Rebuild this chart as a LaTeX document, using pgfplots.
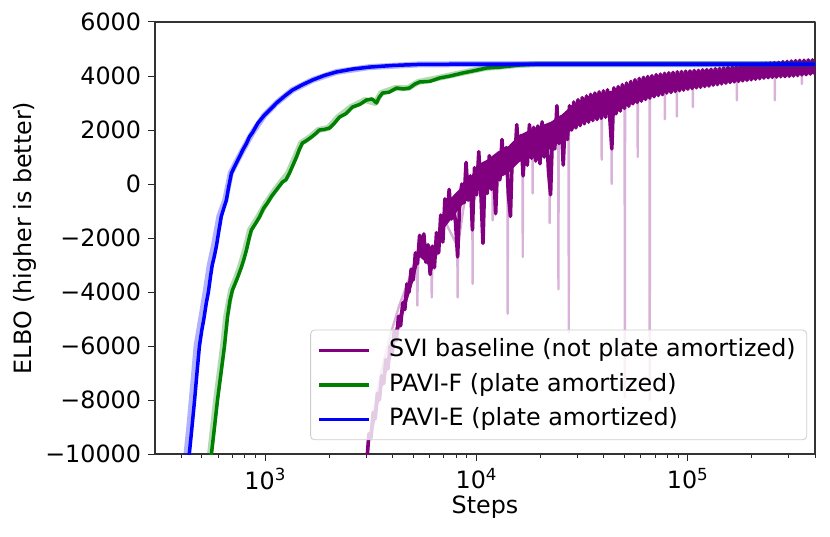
\documentclass[border=0pt]{standalone}
\usepackage{fontspec}
\setmainfont{DejaVu Sans}
\usepackage{pgfplots}
\pgfplotsset{compat=1.18}
\definecolor{mplpurple}{RGB}{128,0,128}
\definecolor{mplgreen}{RGB}{0,128,0}
\definecolor{mplblue}{RGB}{0,0,255}
\newcommand{\fs}{\fontsize{11.9}{14}\selectfont}
\begin{document}
\begin{tikzpicture}
\path[use as bounding box] (-77.5pt,-41pt) rectangle (337.5pt,227pt);
\begin{axis}[
 at={(0pt,0pt)}, anchor=south west,
 scale only axis, width=330pt, height=216pt,
 xmode=log, xmin=300, xmax=400000,
 ymin=-10000, ymax=6000,
 scaled y ticks=false,
 xtick={1000,10000,100000},
 xticklabels={10\textsuperscript{3},10\textsuperscript{4},10\textsuperscript{5}},
 minor xtick={400,500,600,700,800,900,2000,3000,4000,5000,6000,7000,8000,9000,20000,30000,40000,50000,60000,70000,80000,90000,200000,300000,400000},
 ytick={-10000,-8000,-6000,-4000,-2000,0,2000,4000,6000},
 yticklabels={−10000,−8000,−6000,−4000,−2000,0,2000,4000,6000},
 tick align=outside, major tick length=3.5pt, minor tick length=2pt,
 tick style={black!85, line width=0.5pt},
 xtick pos=left, ytick pos=left,
 axis line style={black!80, line width=0.6pt},
 tick label style={font=\fs},
 xlabel={Steps}, ylabel={ELBO (higher is better)},
 every axis x label/.style={at={(axis description cs:0.5,-0.1227)},anchor=center,font=\fs},
 every axis y label/.style={at={(axis description cs:-0.197,0.5)},rotate=90,anchor=center,font=\fs},
 legend style={at={(axis description cs:0.988,0.032)}, anchor=south east, draw=black!20, rounded corners=2pt, fill=white, fill opacity=0.8, text opacity=1, font=\fs, row sep=1.85pt, inner xsep=3.5pt, inner ysep=2.5pt, nodes={inner sep=2pt, text height=8.8pt, text depth=2.6pt}, /tikz/every odd column/.append style={column sep=7pt}},
 legend cell align=left,
 legend image code/.code={\draw[#1] (0pt,0pt) -- (25pt,0pt);},
 line join=round,
]
% faint raw SVI
\addplot[mplpurple, opacity=0.3, line width=1.2pt, forget plot] coordinates {
(2950,-10500) (3250,-8500) (3550,-6900) (3900,-5600) (4300,-4500) (4800,-3500) (5200,-2700) (5240,-4500) (5280,-2600) (5700,-2200) (6100,-2800) (6130,-4200) (6170,-2800) (7000,-1300) (8100,-2300) (8130,-4200) (8160,-2300) (9000,0) (9540,-800) (9570,-3700) (9600,-800) (10500,500) (11880,300) (11910,-1350) (11940,300) (13000,900) (14000,500) (14030,-4800) (14070,500) (15500,1200) (16500,800) (16530,-2700) (16570,800) (17500,1400) (18400,1550) (18420,-350) (18460,1550) (20000,1600) (22150,1000) (22170,-1450) (22210,1000) (23000,1800) (24350,2200) (24400,-3900) (24450,2200) (26000,2250) (27250,2300) (27300,-5500) (27360,2300) (32000,2700) (39000,2950) (39100,900) (39200,2950) (43500,3000) (43600,0) (43700,3000) (50200,3250) (50300,-7900) (50450,3250) (57800,3460) (57900,1000) (58000,3460) (65900,3590) (66000,-8000) (66150,3590) (77700,3730) (77800,2400) (77900,3730) (88600,3800) (88700,2500) (88800,3800) (105400,3870) (105600,2850) (105800,3870) (140000,3980) (170500,4060) (170700,3100) (170900,4060) (220000,4170) (257700,4220) (258000,3100) (258300,4220) (300000,4260) (346400,4310) (346700,3700) (347000,4310) (400000,4360)
};
% SVI core of the smoothed band
\addplot[mplpurple, draw=none, fill=mplpurple, forget plot] coordinates {
(3162,-9000) (3548,-7200) (3981,-5800) (4467,-4400) (5012,-3000) (5370,-2100) (5754,-2400) (6166,-2500) (6607,-1800) (7079,-800) (7586,-500) (8511,-100) (9333,200)
(10000,700) (11220,900) (12589,1200) (14125,1400) (15849,1800) (17783,2000) (19953,2150) (22387,2300) (25119,2550) (28184,2900) (31623,3120) (35481,3270) (39811,3380) (44668,3480) (50119,3620) (63096,3880) (79433,4040) (100000,4120) (125890,4180) (158490,4260) (199530,4350) (251190,4420) (316230,4500) (407380,4540)
(407380,4090) (316230,4020) (251190,3960) (199530,3880) (158490,3780) (125890,3650) (100000,3550) (79433,3400) (63096,3150) (50119,2850) (44668,2650) (39811,2500) (35481,2400) (31623,2250) (28184,2000) (25119,1600) (22387,1300) (19953,1100) (17783,1000) (15849,800) (14125,400) (12589,200) (11220,0) (10000,-300)
(9333,-500) (8511,-800) (7586,-1300) (7079,-1600) (6607,-2500) (6166,-3200) (5754,-2900) (5370,-2700) (5012,-3600) (4467,-4900) (3981,-6300) (3548,-7600) (3162,-9500)
} -- cycle;
% SVI baseline (smoothed)
\addplot[mplpurple, line width=1.8pt] coordinates {
(2951,-10600) (3020,-10300) (3090,-9250) (3162,-9400) (3236,-8450) (3311,-8700) (3388,-7750) (3467,-8000) (3548,-7100) (3631,-7400)
(3715,-6500) (3802,-6850) (3890,-6000) (3981,-6300) (4074,-5450) (4169,-5800) (4266,-4900) (4365,-5250) (4467,-4400) (4571,-4650)
(4677,-3700) (4786,-4000) (4898,-3150) (5012,-3550) (5129,-2550) (5248,-2950) (5370,-1900) (5495,-2400) (5623,-1850) (5754,-2900)
(5888,-2250) (6026,-3350) (6166,-2300) (6310,-3100) (6457,-1800) (6607,-2550) (6761,-1150) (6918,-2150) (7079,-550) (7244,-1300)
(7413,-200) (7586,-1300) (7762,-800) (7943,-1400) (8128,-2700) (8318,-600) (8511,0) (8710,-700) (8913,800) (9120,-600)
(9333,300) (9550,-1700) (9772,600) (10000,-400) (10233,1200) (10471,-300) (10715,-2200) (10965,600) (11220,-350) (11482,1050)
(11749,-200) (12023,750) (12303,-1100) (12589,950) (12882,150) (13183,1650) (13490,400) (13804,1350) (14125,-350) (14454,-1200)
(14791,1450) (15136,750) (15488,2200) (15849,950) (16218,1800) (16596,300) (16982,1550) (17378,700) (17783,2200) (18197,950)
(18621,2100) (19055,850) (19498,2150) (19953,750) (20417,2300) (20893,1000) (21380,2150) (21878,500) (22387,-400) (22909,2100)
(23442,1300) (23988,2900) (24547,1500) (25119,2500) (25704,700) (26303,2550) (26915,1650) (27542,2900) (28184,2000) (28840,3040)
(29512,2080) (30200,3120) (30903,2160) (31623,3200) (32359,2230) (33113,3260) (33884,2290) (34674,3320) (35481,2350) (36308,3370)
(37154,2390) (38019,3410) (38905,2430) (39811,3450) (40738,2470) (41687,3490) (42658,2510) (43652,1300) (44668,3560) (45709,2600)
(46774,3610) (47863,2700) (48978,3680) (50119,2800) (51286,3740) (52481,2880) (53703,3800) (54954,2970) (56234,3860) (57544,3020)
(58884,3910) (60256,3070) (61660,3950) (63096,3130) (64565,3980) (66069,3180) (67608,4010) (69183,3230) (70795,4050) (72444,3275)
(74131,4070) (75858,3310) (77625,4100) (79433,3370) (81283,4120) (83176,3390) (85114,4135) (87096,3425) (89125,4155) (91201,3455)
(93325,4165) (95499,3475) (97724,4180) (100000,3510) (102330,4188) (104710,3536) (107150,4205) (109650,3563) (112200,4211) (114820,3580)
(117490,4230) (120230,3610) (123030,4240) (125890,3630) (128820,4250) (131830,3660) (134900,4270) (138040,3680) (141250,4280) (144540,3710)
(147910,4300) (151360,3735) (154880,4315) (158490,3760) (162180,4330) (165960,3780) (169820,4350) (173780,3800) (177830,4370) (181970,3820)
(186210,4390) (190550,3840) (194980,4410) (199530,3860) (204170,4420) (208930,3880) (213800,4440) (218780,3900) (223870,4455) (229090,3922)
(234420,4470) (239880,3936) (245470,4482) (251190,3948) (257040,4495) (263030,3961) (269150,4507) (275420,3973) (281840,4530) (288400,3976)
(295120,4542) (302000,3988) (309030,4555) (316230,4001) (323590,4570) (331130,4015) (338840,4580) (346740,4040) (354810,4582) (363080,4048)
(371540,4595) (380190,4071) (389050,4597) (398110,4093) (407380,4600)
};
\addlegendentry{SVI baseline (not plate amortized)}
% faint raw PAVI-F
\addplot[mplgreen, opacity=0.3, line width=3pt, forget plot] coordinates {
(532,-10600) (547,-10000) (565,-9000) (584,-8000) (607,-7000) (630,-6000) (651,-4930) (688,-3930) (724,-3500) (758,-3075) (801,-2445) (845,-1704) (923,-1223) (1007,-704) (1110,-222) (1186,74) (1281,407) (1382,1000) (1475,1518) (1627,1740) (1776,2000) (1981,2074) (2209,2481) (2545,2852) (2965,3111) (3307,3000) (3533,3370) (4117,3555) (4737,3555) (5289,3778) (6580,3926) (8461,4111) (10983,4296) (15760,4407) (19620,4444) (400000,4444)
};
% PAVI-F
\addplot[mplgreen, line width=1.75pt] coordinates {
(540,-10600) (555,-10000) (574,-9000) (593,-8000) (616,-7000) (640,-6000) (661,-4930) (680,-4300) (698,-3930) (735,-3500) (770,-3075) (790,-2800) (813,-2445) (835,-2050) (858,-1704) (900,-1450) (937,-1223) (980,-900) (1022,-704) (1070,-450) (1127,-222) (1204,74) (1250,150) (1300,407) (1350,700) (1403,1000) (1450,1300) (1497,1518) (1560,1600) (1652,1740) (1720,1850) (1803,2000) (1900,2020) (2011,2074) (2120,2250) (2243,2481) (2400,2600) (2584,2852) (2800,2950) (3010,3111) (3200,3150) (3357,3000) (3450,3200) (3587,3370) (3850,3400) (4180,3555) (4500,3520) (4809,3555) (5100,3700) (5370,3778) (6000,3800) (6680,3926) (7500,4000) (8590,4111) (9800,4200) (11150,4296) (13000,4330) (16000,4407) (19920,4444) (400000,4444)
};
\addlegendentry{PAVI-F (plate amortized)}
% faint raw PAVI-E
\addplot[mplblue, opacity=0.3, line width=3pt, forget plot] coordinates {
(407,-10600) (423,-10000) (436,-9000) (448,-8000) (460,-7000) (472,-6000) (496,-5000) (521,-4000) (545,-3000) (570,-2300) (605,-1200) (645,-600) (685,400) (750,1000) (813,1500) (868,1900) (989,2550) (1128,3000) (1343,3480) (1670,3850) (2170,4150) (3110,4330) (5370,4430) (10000,4440) (400000,4440)
};
% PAVI-E
\addplot[mplblue, line width=1.75pt] coordinates {
(420,-10600) (436,-10000) (449,-9000) (462,-8000) (474,-7000) (487,-6000) (500,-5400) (511,-5000) (525,-4400) (537,-4000) (550,-3400) (560,-3000) (572,-2700) (586,-2300) (600,-1800) (618,-1200) (635,-900) (653,-600) (670,-100) (690,400) (720,700) (753,1000) (780,1250) (813,1500) (840,1750) (868,1900) (920,2250) (989,2550) (1050,2750) (1128,3000) (1230,3250) (1343,3480) (1500,3680) (1670,3850) (1900,4020) (2170,4150) (2600,4260) (3110,4330) (4000,4390) (5370,4430) (10000,4440) (400000,4440)
};
\addlegendentry{PAVI-E (plate amortized)}
\end{axis}
\end{tikzpicture}
\end{document}
